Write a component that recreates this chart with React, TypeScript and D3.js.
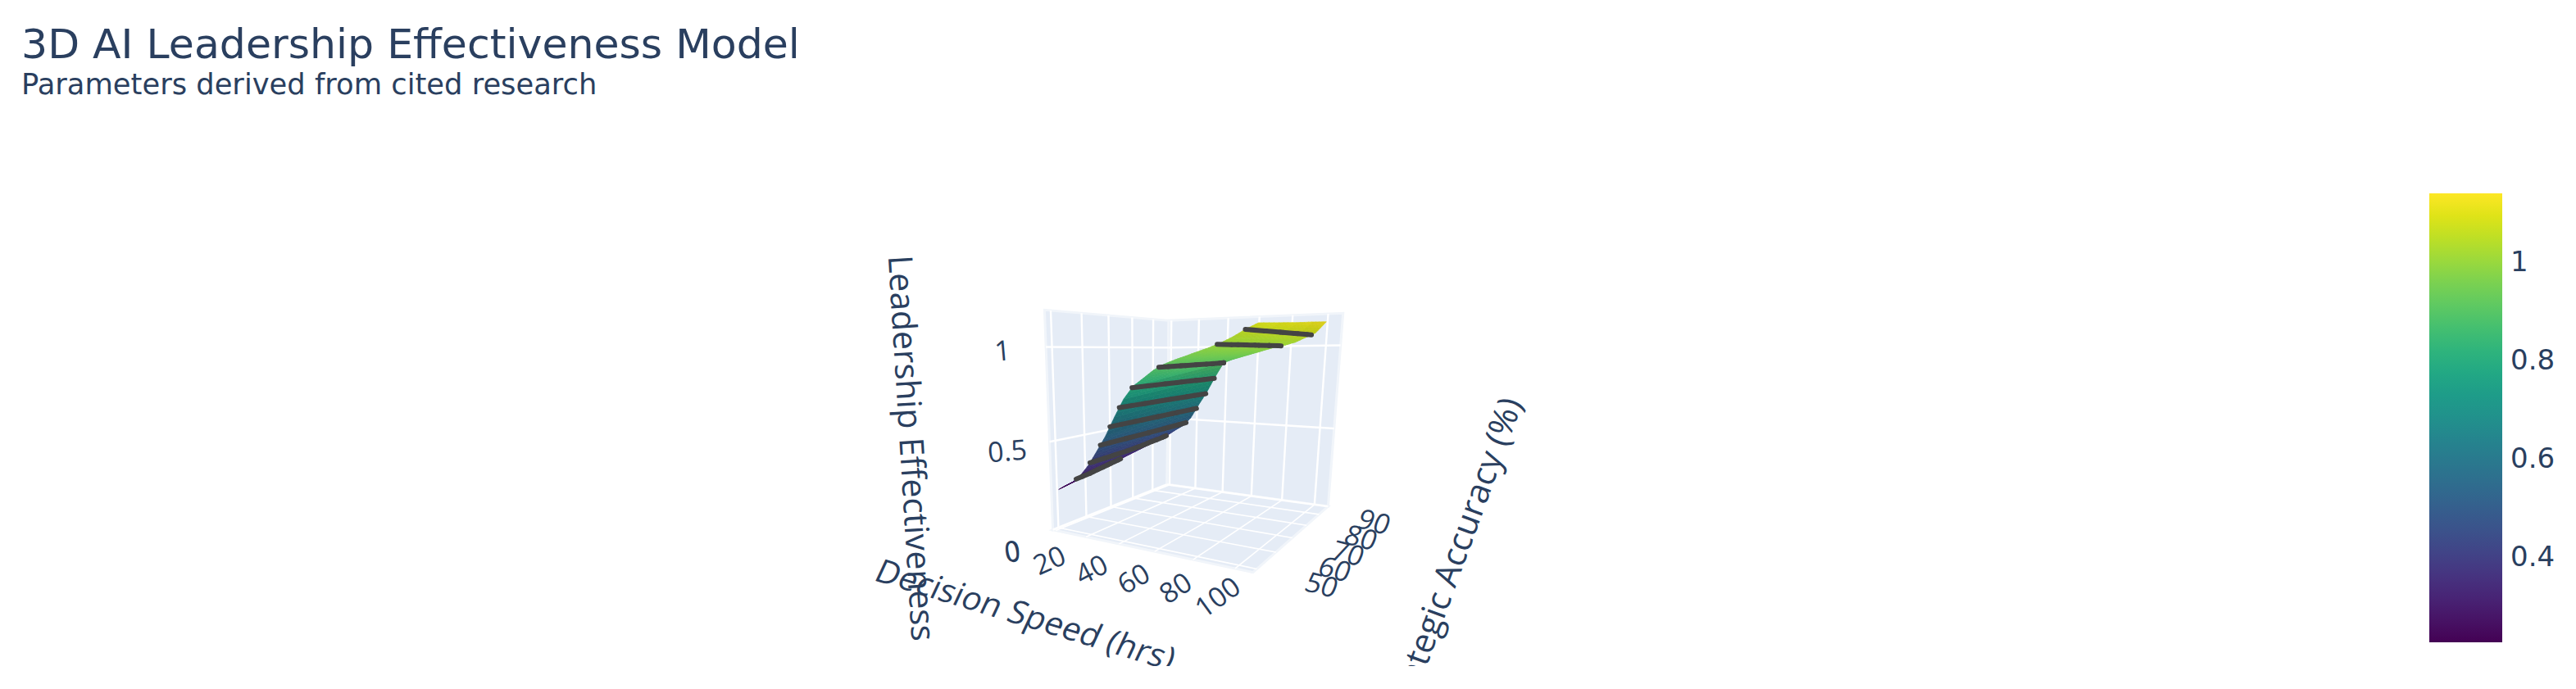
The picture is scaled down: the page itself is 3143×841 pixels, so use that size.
import React, { useRef, useEffect } from 'react';
import * as d3 from 'd3';

const titleText = '3D AI Leadership Effectiveness Model';
const subtitleText = 'Parameters derived from cited research';

// Decision speed rows and strategic accuracy columns of the surface
const speedValues = [-0.9, 3.3, 8.6, 13.9, 19.2, 24.4, 29.7, 35, 40.3, 45.6, 50.9, 56.2, 61.5, 66.8, 72, 77.3, 82.6, 87.9, 93.2, 98.5, 103.8];
const accuracyValues = [50, 60, 70, 80, 91];

// Leadership effectiveness, one row per speed value
const effectiveness = [
  [0.225, 0.257, 0.288, 0.32, 0.355],
  [0.25, 0.281, 0.313, 0.346, 0.38],
  [0.28, 0.313, 0.345, 0.378, 0.41],
  [0.325, 0.355, 0.386, 0.417, 0.447],
  [0.388, 0.41, 0.433, 0.456, 0.48],
  [0.467, 0.484, 0.5, 0.517, 0.535],
  [0.55, 0.568, 0.587, 0.605, 0.625],
  [0.65, 0.665, 0.68, 0.694, 0.71],
  [0.743, 0.759, 0.776, 0.792, 0.81],
  [0.808, 0.83, 0.853, 0.875, 0.9],
  [0.846, 0.864, 0.882, 0.9, 0.92],
  [0.885, 0.897, 0.909, 0.921, 0.935],
  [0.913, 0.922, 0.931, 0.94, 0.95],
  [0.933, 0.941, 0.948, 0.956, 0.965],
  [0.95, 0.957, 0.964, 0.971, 0.98],
  [0.968, 0.974, 0.98, 0.987, 0.995],
  [0.985, 0.99, 0.995, 1.0, 1.005],
  [1.005, 1.008, 1.012, 1.016, 1.02],
  [1.03, 1.034, 1.038, 1.041, 1.045],
  [1.06, 1.062, 1.065, 1.067, 1.07],
  [1.085, 1.095, 1.105, 1.118, 1.13],
];

const contourLevels = [0.3, 0.4, 0.5, 0.6, 0.7, 0.8, 0.9, 1.0, 1.06];
const speedTicks = [20, 40, 60, 80, 100];
const accuracyTicks = [50, 60, 70, 80, 90];
const effectTicks = [0, 0.5, 1];
const colorbarTicks = [0.4, 0.6, 0.8, 1];

const textColor = '#2a3f5f';
const wallColor = '#e5ecf6';
const titleFont = '"DejaVu Sans", Verdana, sans-serif';
const sceneFont = '"Open Sans", sans-serif';

const App: React.FC = () => {
  const svgRef = useRef<SVGSVGElement>(null);

  useEffect(() => {
    if (!svgRef.current) return;
    const svg = d3.select(svgRef.current);
    svg.selectAll('*').remove();

    // Axis ranges mapped to the unit cube
    const xScale = d3.scaleLinear().domain([-2, 108]).range([0, 1]);
    const yScale = d3.scaleLinear().domain([48.15, 98.15]).range([0, 1]);
    const zScale = d3.scaleLinear().domain([0, 1.185]).range([0, 1]);
    const colorScale = d3.scaleSequential(d3.interpolateViridis).domain([0.2245, 1.1385]);

    // Perspective camera fitted to the scene box
    const depth = (x: number, y: number, z: number) =>
      1 - 0.2 * xScale(x) + 0.336 * yScale(y) - 0.085 * zScale(z);
    const project = (x: number, y: number, z: number): [number, number] => {
      const u = xScale(x), v = yScale(y), w = zScale(z);
      const d = depth(x, y, z);
      return [
        (1284.6 - 61.6 * u + 617.8 * v - 118.5 * w) / d,
        (646.7 - 87.8 * u + 143.3 * v - 300.5 * w) / d,
      ];
    };

    const [x0, x1] = xScale.domain();
    const [y0, y1] = yScale.domain();
    const [z0, z1] = zScale.domain();
    const line = d3.line();

    const defs = svg.append('defs');
    defs.append('clipPath').attr('id', 'scene-clip')
      .append('rect').attr('width', 3143).attr('height', 813);

    const scene = svg.append('g').attr('clip-path', 'url(#scene-clip)');

    // Walls and floor
    const walls: [number, number, number][][] = [
      [[x0, y0, z0], [x0, y1, z0], [x0, y1, z1], [x0, y0, z1]],
      [[x0, y1, z0], [x1, y1, z0], [x1, y1, z1], [x0, y1, z1]],
      [[x0, y0, z0], [x1, y0, z0], [x1, y1, z0], [x0, y1, z0]],
    ];
    scene.selectAll('.wall').data(walls).enter().append('path')
      .attr('class', 'wall')
      .attr('d', d => line(d.map(p => project(p[0], p[1], p[2])))! + 'Z')
      .attr('fill', wallColor)
      .attr('stroke', '#f1f5fa')
      .attr('stroke-width', 3);

    // Grid lines
    const gridLines: { a: [number, number, number]; b: [number, number, number]; w: number }[] = [];
    speedTicks.concat([0]).forEach(t => {
      gridLines.push({ a: [t, y1, z0], b: [t, y1, z1], w: 2.4 });
      gridLines.push({ a: [t, y0, z0], b: [t, y1, z0], w: 1.6 });
    });
    accuracyTicks.forEach(t => {
      gridLines.push({ a: [x0, t, z0], b: [x0, t, z1], w: 2.4 });
      gridLines.push({ a: [x0, t, z0], b: [x1, t, z0], w: 1.6 });
    });
    effectTicks.forEach(t => {
      gridLines.push({ a: [x0, y0, t], b: [x0, y1, t], w: 2.4 });
      gridLines.push({ a: [x0, y1, t], b: [x1, y1, t], w: 2.4 });
    });
    scene.selectAll('.grid').data(gridLines).enter().append('path')
      .attr('class', 'grid')
      .attr('d', d => line([project(d.a[0], d.a[1], d.a[2]), project(d.b[0], d.b[1], d.b[2])]))
      .attr('stroke', '#fff')
      .attr('stroke-width', d => d.w)
      .attr('fill', 'none');

    // Surface: every table cell is shaded in small pieces, far ones first
    const pieces: { pts: [number, number][]; color: string; d: number }[] = [];
    const steps = d3.range(0, 4).map(i => i / 4);
    const cell = 1 / 4;
    for (let i = 0; i < speedValues.length - 1; i++) {
      for (let j = 0; j < accuracyValues.length - 1; j++) {
        const sx = d3.interpolateNumber(speedValues[i], speedValues[i + 1]);
        const sy = d3.interpolateNumber(accuracyValues[j], accuracyValues[j + 1]);
        const height = (s: number, t: number) =>
          (1 - s) * (1 - t) * effectiveness[i][j] + s * (1 - t) * effectiveness[i + 1][j] +
          (1 - s) * t * effectiveness[i][j + 1] + s * t * effectiveness[i + 1][j + 1];
        // steep parts of the surface catch less light
        const slope = Math.abs(effectiveness[i + 1][j] - effectiveness[i][j]) / (speedValues[i + 1] - speedValues[i]);
        const shade = 1 - Math.min(slope / 0.02, 1) * 0.22;
        steps.forEach(s => steps.forEach(t => {
          const corner = (a: number, b: number) => project(sx(a), sy(b), height(a, b));
          const base = d3.rgb(colorScale(height(s + cell / 2, t + cell / 2)));
          pieces.push({
            pts: [corner(s, t), corner(s + cell, t), corner(s + cell, t + cell), corner(s, t + cell)],
            color: d3.rgb(base.r * shade, base.g * shade, base.b * shade).formatHex(),
            d: depth(sx(s + cell / 2), sy(t + cell / 2), height(s + cell / 2, t + cell / 2)),
          });
        }));
      }
    }
    pieces.sort((a, b) => b.d - a.d);
    scene.append('g').selectAll('path').data(pieces).enter().append('path')
      .attr('d', d => line(d.pts)! + 'Z')
      .attr('fill', d => d.color)
      .attr('stroke', d => d.color)
      .attr('stroke-width', 0.7);

    // Contour lines on the surface
    const contourSegments: [number, number][][] = [];
    contourLevels.forEach(level => {
      for (let i = 0; i < speedValues.length - 1; i++) {
        for (let j = 0; j < accuracyValues.length - 1; j++) {
          const tris = [
            [[i, j], [i + 1, j], [i + 1, j + 1]],
            [[i, j], [i + 1, j + 1], [i, j + 1]],
          ];
          tris.forEach(tri => {
            const hits: [number, number][] = [];
            tri.forEach((p, k) => {
              const q = tri[(k + 1) % 3];
              const za = effectiveness[p[0]][p[1]], zb = effectiveness[q[0]][q[1]];
              if ((za >= level) !== (zb >= level)) {
                const f = (level - za) / (zb - za);
                hits.push(project(
                  speedValues[p[0]] + f * (speedValues[q[0]] - speedValues[p[0]]),
                  accuracyValues[p[1]] + f * (accuracyValues[q[1]] - accuracyValues[p[1]]),
                  level,
                ));
              }
            });
            if (hits.length === 2) contourSegments.push(hits);
          });
        }
      }
    });
    scene.append('g').selectAll('path').data(contourSegments).enter().append('path')
      .attr('d', d => line(d))
      .attr('stroke', '#444')
      .attr('stroke-width', 6)
      .attr('stroke-linecap', 'round')
      .attr('fill', 'none');

    // Tick labels sit on their own screen scales, they do not follow the grid exactly
    const tickFont = 34;
    const speedLabelX = d3.scaleLinear().domain([20, 100]).range([1280, 1485]);
    const speedLabelY = d3.scaleLinear().domain([20, 100]).range([683, 728]);
    const speedLabelAngle = d3.scaleLinear().domain([20, 100]).range([-24, -36]);
    const accuracyLabelX = d3.scaleLinear().domain([50, 90]).range([1613, 1677]);
    const accuracyLabelY = d3.scaleLinear().domain([50, 90]).range([713, 636]);
    const effectLabelX = d3.scaleLinear().domain([0, 1]).range([1235, 1223]);
    const effectLabelY = d3.scaleLinear().domain([0, 1]).range([672, 427]);

    const addSceneText = (text: string, x: number, y: number, transform: string, size: number) =>
      scene.append('text')
        .attr('transform', `translate(${x},${y}) ${transform}`)
        .attr('text-anchor', 'middle')
        .attr('dominant-baseline', 'central')
        .attr('font-family', sceneFont)
        .attr('font-size', size)
        .attr('fill', textColor)
        .text(text);

    addSceneText('0', speedLabelX(20) - 45, speedLabelY(20) - 11, 'rotate(-12) scale(0.9,1.05)', tickFont);
    speedTicks.forEach(t => addSceneText(String(t), speedLabelX(t), speedLabelY(t), `rotate(${speedLabelAngle(t)})`, tickFont));
    accuracyTicks.forEach(t => addSceneText(String(t), accuracyLabelX(t), accuracyLabelY(t), 'rotate(14) skewX(-6)', tickFont));
    effectTicks.forEach(t => addSceneText(String(t), effectLabelX(t), effectLabelY(t), 'rotate(-5)', tickFont));

    // Axis titles
    addSceneText('Leadership Effectiveness', 1114, 547, 'rotate(86.5)', 41);
    addSceneText('Decision Speed (hrs)', 1252, 749, 'rotate(17) skewX(-8)', 40);
    addSceneText('Strategic Accuracy (%)', 1771, 684, 'rotate(-70)', 41.5);

    // Title block
    svg.append('text')
      .attr('x', 26).attr('y', 71)
      .attr('font-family', titleFont)
      .attr('font-size', 50.5)
      .attr('fill', textColor)
      .text(titleText);
    svg.append('text')
      .attr('x', 26).attr('y', 115)
      .attr('font-family', titleFont)
      .attr('font-size', 35.3)
      .attr('fill', textColor)
      .text(subtitleText);

    // Colorbar
    const barX = 2964, barWidth = 89;
    const barScale = d3.scaleLinear().domain(colorScale.domain()).range([784, 236]);
    const gradient = defs.append('linearGradient')
      .attr('id', 'viridis-bar')
      .attr('x1', 0).attr('y1', 1).attr('x2', 0).attr('y2', 0);
    d3.range(0, 1.001, 0.05).forEach(t => {
      gradient.append('stop')
        .attr('offset', t)
        .attr('stop-color', d3.interpolateViridis(t));
    });
    svg.append('rect')
      .attr('x', barX).attr('y', barScale(colorScale.domain()[1]))
      .attr('width', barWidth).attr('height', 548)
      .attr('fill', 'url(#viridis-bar)');
    svg.selectAll('.bar-tick').data(colorbarTicks).enter().append('text')
      .attr('class', 'bar-tick')
      .attr('x', 3063)
      .attr('y', d => barScale(d))
      .attr('dominant-baseline', 'central')
      .attr('font-family', titleFont)
      .attr('font-size', 34)
      .attr('fill', textColor)
      .text(d => String(d));
  }, []);

  return (
    <svg
      ref={svgRef}
      width={3143}
      height={841}
      style={{ position: 'absolute', left: 0, top: 0, background: '#fff' }}
    />
  );
};

export default App;
